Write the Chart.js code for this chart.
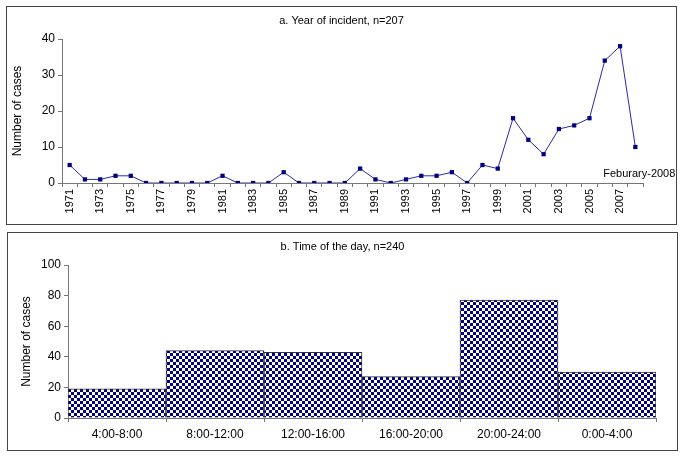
<!DOCTYPE html>
<html>
<head>
<meta charset="utf-8">
<script src="https://cdn.jsdelivr.net/npm/chart.js@4"></script>
<style>
  body { margin: 0; background: #fff; width: 685px; height: 457px; position: relative; overflow: hidden; }
  .panel { position: absolute; border: 1px solid #444; width: 669px; height: 217px; background: #fff; }
  #panelA { left: 6px; top: 6px; }
  #panelB { left: 7px; top: 232px; }
  canvas { display: block; }
</style>
</head>
<body>
<div class="panel" id="panelA"><canvas id="yearChart" width="669" height="217"></canvas></div>
<div class="panel" id="panelB"><canvas id="timeChart" width="669" height="217"></canvas></div>
<script>
// panel a - year of incident
const years = [];
for (let y = 1971; y <= 2008; y++) years.push(String(y));
const yearCases = [5, 1, 1, 2, 2, 0, 0, 0, 0, 0, 2, 0, 0, 0, 3, 0, 0, 0, 0, 4,
                   1, 0, 1, 2, 2, 3, 0, 5, 4, 18, 12, 8, 15, 16, 18, 34, 38, 10];
const yearTicks = [0, 10, 20, 30, 40];

// panel b - time of the day
const timeSlots = ['4:00-8:00', '8:00-12:00', '12:00-16:00', '16:00-20:00', '20:00-24:00', '0:00-4:00'];
const timeCases = [19, 44, 43, 27, 77, 30];
const timeTicks = [0, 20, 40, 60, 80, 100];

Chart.defaults.font.family = '"Liberation Sans", Arial, sans-serif';
Chart.defaults.font.size = 11;
Chart.defaults.color = '#000';
Chart.defaults.animation = false;

const titlePlugin = {
    id: 'panelTitle',
    afterDraw(chart, args, opts) {
        const ctx = chart.ctx;
        ctx.save();
        ctx.font = '11px "Liberation Sans", Arial, sans-serif';
        ctx.fillStyle = '#000';
        ctx.textAlign = 'center';
        ctx.textBaseline = 'middle';
        ctx.fillText(opts.text, chart.width / 2, 14);
        ctx.restore();
    }
};

const notePlugin = {
    id: 'lastNote',
    afterDatasetsDraw(chart) {
        const meta = chart.getDatasetMeta(0);
        const last = meta.data[meta.data.length - 1];
        const ctx = chart.ctx;
        ctx.save();
        ctx.font = '11px "Liberation Sans", Arial, sans-serif';
        ctx.fillStyle = '#000';
        ctx.textAlign = 'right';
        ctx.textBaseline = 'middle';
        ctx.fillText('Feburary-2008', last.x + 40, last.y + 27);
        ctx.restore();
    }
};

function checker() {
    const c = document.createElement('canvas');
    c.width = 6; c.height = 6;
    const g = c.getContext('2d');
    g.fillStyle = '#fff';
    g.fillRect(0, 0, 6, 6);
    g.fillStyle = '#000080';
    g.fillRect(0, 0, 3, 3);
    g.fillRect(3, 3, 3, 3);
    return g.createPattern(c, 'repeat');
}

new Chart(document.getElementById('yearChart'), {
    type: 'line',
    data: {
        labels: years,
        datasets: [{
            data: yearCases,
            borderColor: '#2a2aa8',
            borderWidth: 1,
            backgroundColor: '#000080',
            pointStyle: 'rect',
            pointRadius: 3,
            pointBorderWidth: 0,
            tension: 0
        }]
    },
    options: {
        responsive: false,
        layout: { padding: { top: 32, right: 33, left: 0, bottom: 0 } },
        plugins: {
            legend: { display: false },
            tooltip: { enabled: false },
            panelTitle: { text: 'a. Year of incident, n=207' }
        },
        scales: {
            x: {
                offset: true,
                grid: { offset: true, drawOnChartArea: false, tickLength: 4, color: '#777' },
                border: { color: '#777' },
                ticks: {
                    autoSkip: false,
                    minRotation: 90,
                    maxRotation: 90,
                    padding: 2,
                    callback: (v, i) => (i % 2 === 0 ? years[i] : '')
                },
                afterFit: s => { s.height = 41; }
            },
            y: {
                min: 0,
                max: 40,
                afterBuildTicks: s => { s.ticks = yearTicks.map(v => ({ value: v })); },
                grid: { drawOnChartArea: false, tickLength: 4, color: '#777' },
                border: { color: '#777' },
                ticks: { padding: 3, font: { size: 12 } },
                title: { display: true, text: 'Number of cases', font: { size: 12 }, padding: { top: 3, bottom: 0 } },
                afterFit: s => { s.width = 55; }
            }
        }
    },
    plugins: [titlePlugin, notePlugin]
});

new Chart(document.getElementById('timeChart'), {
    type: 'bar',
    data: {
        labels: timeSlots,
        datasets: [{
            data: timeCases,
            backgroundColor: checker(),
            borderColor: '#333',
            borderWidth: 1,
            barPercentage: 1,
            categoryPercentage: 1
        }]
    },
    options: {
        responsive: false,
        layout: { padding: { top: 32, right: 21, left: 0, bottom: 0 } },
        plugins: {
            legend: { display: false },
            tooltip: { enabled: false },
            panelTitle: { text: 'b. Time of the day, n=240' }
        },
        scales: {
            x: {
                grid: { offset: true, drawOnChartArea: false, tickLength: 4, color: '#777' },
                border: { color: '#777' },
                ticks: { padding: 5, font: { size: 12 } },
                afterFit: s => { s.height = 32; }
            },
            y: {
                min: 0,
                max: 100,
                afterBuildTicks: s => { s.ticks = timeTicks.map(v => ({ value: v })); },
                grid: { drawOnChartArea: false, tickLength: 4, color: '#777' },
                border: { color: '#777' },
                ticks: { padding: 3, font: { size: 12 } },
                title: { display: true, text: 'Number of cases', font: { size: 12 }, padding: { top: 11, bottom: 0 } },
                afterFit: s => { s.width = 60; }
            }
        }
    },
    plugins: [titlePlugin]
});
</script>
</body>
</html>
